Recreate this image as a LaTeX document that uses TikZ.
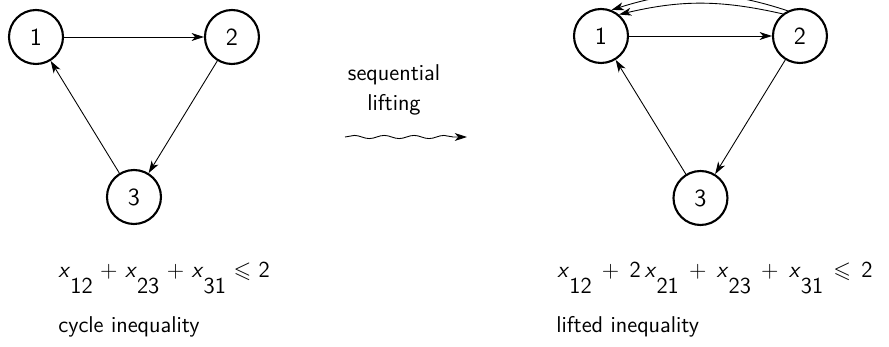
\documentclass[tikz,border=0pt]{standalone}
\usepackage{amssymb}
\usepackage{tikz}
\usetikzlibrary{arrows.meta, positioning, calc, decorations.pathmorphing}

\newcommand{\xsub}[1]{\textit{x}\raisebox{-0.7em}{#1}}
\newcommand{\wsp}{\hspace{5.8pt}}

\begin{document}
\begin{tikzpicture}[x=0.02cm, y=-0.02cm, node distance=3.92cm,
    font=\sffamily\fontsize{13}{17}\selectfont,
    vertex/.style={circle, draw, line width=1.2pt, minimum size=1.08cm, inner sep=0pt, font=\sffamily\fontsize{14}{17}\selectfont},
    edge/.style={-{Stealth[length=7pt, width=4.5pt, inset=2pt]}, line width=0.5pt},
    caption/.style={anchor=base west, inner sep=0pt}]
    \useasboundingbox (0,0) rectangle (889,347);

    % cycle
    \node[vertex] (l1) at (36,37) {1};
    \node[vertex, right of=l1] (l2) {2};
    \node[vertex] (l3) at ($(l1)!0.5!(l2)+(0,160)$) {3};
    \draw[edge] (l1) -- (l2);
    \draw[edge] (l2) -- (l3);
    \draw[edge] (l3) -- (l1);

    % lifting step
    \node[align=center] (lift) at (394,90) {sequential\\lifting};
    \coordinate (ws) at (345,137);
    \coordinate (we) at (467,137);
    \draw[edge, decorate, decoration={snake, amplitude=0.9pt, segment length=17pt, post length=7pt}] (ws) -- (we);

    % lifted graph
    \node[vertex] (r1) at (601,36) {1};
    \node[vertex, right of=r1, node distance=3.98cm] (r2) {2};
    \node[vertex] (r3) at ($(r1)!0.5!(r2)+(0,162)$) {3};
    \draw[edge] (r1) -- (r2);
    \draw[edge] (r2) -- (r3);
    \draw[edge] (r3) -- (r1);
    \draw[edge] (r2.128) to[bend right=13] (r1.50);
    \draw[edge] (r2.116) to[bend right=18] (r1.68);

    % inequalities
    \node[caption] (lineq) at (58,278) {\xsub{12} + \xsub{23} + \xsub{31} $\leqslant$ 2};
    \node[caption] (lname) at (58,333) {cycle inequality};
    \node[caption] (rineq) at (557,278) {\xsub{12}\wsp+\wsp2\,\xsub{21}\wsp+\wsp\xsub{23}\wsp+\wsp\xsub{31}\wsp$\leqslant$\wsp2};
    \node[caption] (rname) at (556,333) {lifted inequality};
\end{tikzpicture}
\end{document}
